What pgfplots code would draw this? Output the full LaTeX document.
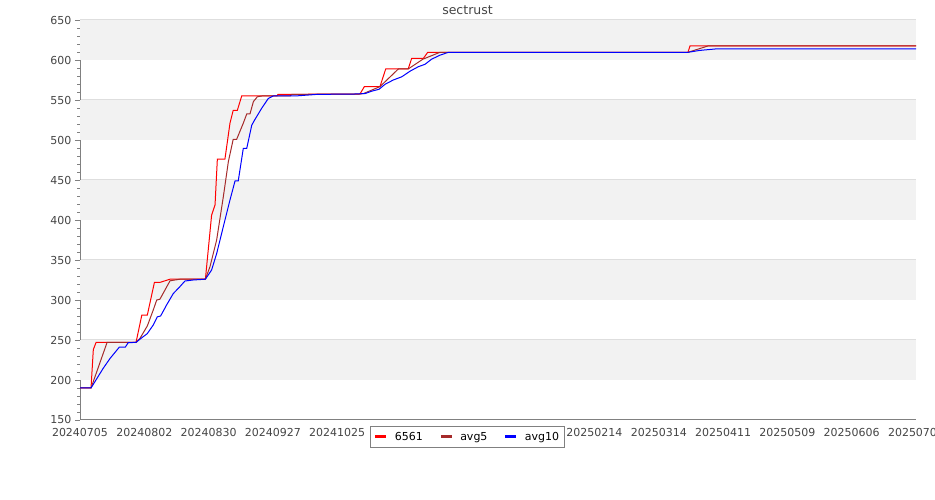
\documentclass[border=0pt]{standalone}
\usepackage{pgfplots}
\pgfplotsset{compat=1.18}
\usepackage{fontspec}
\setmainfont{DejaVu Sans}
\definecolor{band}{RGB}{242,242,242}
\definecolor{gridc}{RGB}{222,222,222}
\definecolor{axisc}{RGB}{128,128,128}
\definecolor{labc}{RGB}{68,68,68}
\definecolor{avgbrown}{RGB}{165,42,42}
\begin{document}
\begin{tikzpicture}
\begin{axis}[
    set layers,
    at={(80pt,80pt)}, anchor=south west,
    scale only axis, width=836pt, height=400pt,
    xmin=0, xmax=364, ymin=150, ymax=650,
    axis x line*=bottom, axis y line*=left,
    axis line style={axisc, line width=1pt, -},
    xtick={0,28,...,364},
    xticklabels={20240705,20240802,20240830,20240927,20241025,20241122,20241220,20250117,20250214,20250314,20250411,20250509,20250606,20250704},
    xtick style={draw=none},
    ytick={150,200,...,650},
    minor y tick num=4,
    tick align=outside,
    major tick length=5pt, minor tick length=3pt,
    ytick style={axisc, line width=0.8pt},
    ymajorgrids, grid style={gridc, line width=1pt},
    tick label style={font=\fontsize{11}{13}\selectfont, text=labc},
    /pgf/number format/assume math mode=true,
    /pgf/number format/1000 sep={},
    every axis plot/.append style={line width=1pt},
    legend columns=3,
    legend style={at={(0.4635,-0.015)}, anchor=north, draw=axisc, line width=1pt,
        font=\fontsize{11}{13}\selectfont, inner xsep=3pt, inner ysep=3.5pt,
        /tikz/every odd column/.append style={column sep=5pt},
        /tikz/every even column/.append style={column sep=14.5pt}},
    legend image code/.code={\draw[#1, line width=3pt] (0pt,0pt) -- (11pt,0pt);},
]
\fill[band, on layer=axis background] (axis cs:0,200) rectangle (axis cs:364,250);
\fill[band, on layer=axis background] (axis cs:0,300) rectangle (axis cs:364,350);
\fill[band, on layer=axis background] (axis cs:0,400) rectangle (axis cs:364,450);
\fill[band, on layer=axis background] (axis cs:0,500) rectangle (axis cs:364,550);
\fill[band, on layer=axis background] (axis cs:0,600) rectangle (axis cs:364,650);

% 6561
\addplot[red] coordinates {
(0,190) (4.8,190) (5.8,238) (7.0,247) (24.4,247) (26.9,281) (29.3,281) (32.4,322)
(34.8,322) (39.2,326) (54.6,326) (57.3,406) (58.8,419) (59.8,476) (63.1,476)
(65.3,521) (66.7,537) (68.5,537) (70.4,555) (85.8,555) (86.2,557) (121.9,557.5)
(123.8,566.7) (130.6,566.7) (133.1,588.75) (142.9,588.75) (144.4,602) (149.5,602)
(151.4,609.6) (264.7,609.6) (265.6,617.5) (364,617.5)
};
\addlegendentry{6561}
% avg5
\addplot[avgbrown] coordinates {
(0,190) (4.8,190) (11.8,247) (24.4,247) (26.1,252) (29.3,267.5) (31.9,287.5)
(33.4,300) (34.8,301) (37.0,312.5) (39.2,324) (43.5,326) (54.6,326) (56.6,341.7)
(59.5,375) (62.4,429) (64.6,473) (66.7,500.8) (68.2,500.8) (71.1,521) (72.6,532.5)
(74.0,532.5) (75.5,548) (77.2,554) (79.2,555) (91.5,555) (92.2,557) (121.9,557.5)
(123.4,558) (130.6,566.7) (138.6,588.75) (142.9,588.75) (149.3,601) (156.7,609.6)
(264.7,609.6) (273.4,617.5) (364,617.5)
};
\addlegendentry{avg5}
% avg10
\addplot[blue] coordinates {
(0,190) (4.8,190) (10.1,214.6) (13.1,227) (17.1,241) (19.7,241) (21.0,246.7)
(24.4,247) (26.1,251) (29.3,258) (31.9,268.75) (33.7,279) (35.1,280) (37.7,293.75)
(40.6,308) (43.5,316.7) (45.7,323.75) (49.3,325) (54.6,326) (57.3,337.5) (59.5,358)
(62.4,391.7) (65.3,425) (67.5,448.75) (68.9,448.75) (71.1,489.6) (72.6,489.6)
(74.8,518.75) (76.2,525.8) (79.1,539.6) (82.0,552) (84.2,555) (93.6,555) (103.1,557)
(119.7,557.5) (124.1,558) (127.0,561) (130.2,563.4) (132.8,569.6) (136.4,575)
(140.1,579) (143.7,586) (147.3,591.6) (150.2,594.6) (153.1,601) (156.7,606)
(160.4,609.6) (264.7,609.6) (269.9,612) (276.5,613.75) (364,613.75)
};
\addlegendentry{avg10}
\end{axis}
\node[anchor=base, font=\fontsize{12.5}{14}\selectfont, text=labc] at (467.5pt,485pt) {sectrust};
\pgfresetboundingbox
\useasboundingbox (0,0) rectangle (935pt,500pt);
\end{tikzpicture}
\end{document}
